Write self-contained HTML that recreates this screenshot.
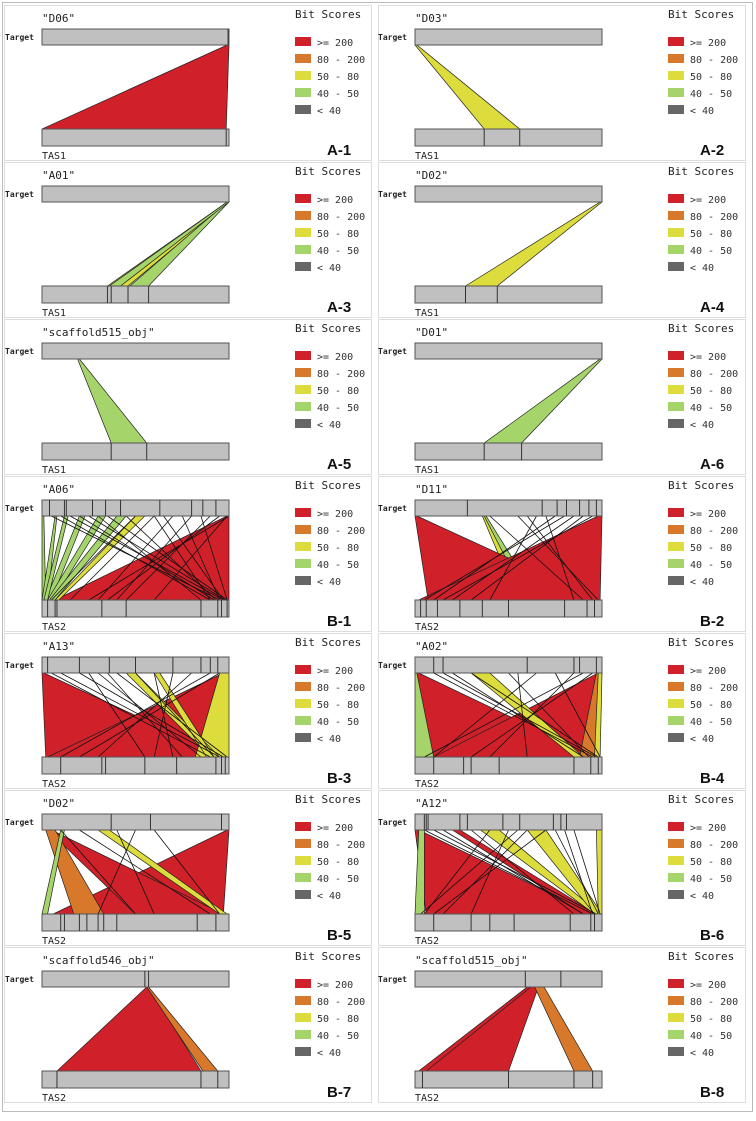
<!DOCTYPE html>
<html><head><meta charset="utf-8"><style>
html,body{margin:0;padding:0;background:#fff;}
svg{display:block;font-family:"DejaVu Sans Mono","Liberation Mono",monospace;}
</style></head><body>
<svg id="fig" width="756" height="1121" viewBox="0 0 756 1121"></svg>
<script>
const titles=['"D06"','"D03"','"A01"','"D02"','"scaffold515_obj"','"D01"','"A06"','"D11"','"A13"','"A02"','"D02"','"A12"','"scaffold546_obj"','"scaffold515_obj"'];
const panelLabels=['A-1','A-2','A-3','A-4','A-5','A-6','B-1','B-2','B-3','B-4','B-5','B-6','B-7','B-8'];
const queryNames=['TAS1','TAS1','TAS1','TAS1','TAS1','TAS1','TAS2','TAS2','TAS2','TAS2','TAS2','TAS2','TAS2','TAS2'];
const legendLabels=['>= 200','80 - 200','50 - 80','40 - 50','< 40'];
const scoreColors=['#d0202a','#d8782a','#dcdc3c','#a4d46a','#666666'];
// ribbons: [targetStart,targetEnd,queryStart,queryEnd,scoreClass]
const ribbons=[
 [[0.99,1,0,0.985,0]],
 [[0,0.01,0.37,0.56,2]],
 [[0.99,1,0.35,0.46,2],[0.99,1,0.47,0.57,3],[0.99,1,0.36,0.42,3]],
 [[0.99,1,0.27,0.44,2]],
 [[0.19,0.2,0.37,0.56,3]],
 [[0.99,1,0.37,0.57,3]],
 [[0.99,1,0.07,1,0],[0,0.01,0,0.02,3],[0.07,0.08,0,0.03,3],[0.2,0.23,0.02,0.05,3],[0.3,0.34,0.03,0.06,3],[0.4,0.45,0.04,0.07,3],[0.12,0.14,0.01,0.03,3],[0.5,0.55,0.07,0.09,2]],
 [[0.36,0.38,0.6,0.66,3],[0.36,0.37,0.55,0.6,2],[0,0.01,0.9,0.95,1],[0,0.01,0.07,0.99,0],[0.98,1,0.02,0.99,0]],
 [[0,0.01,0.02,0.98,0],[0.97,0.98,0.03,0.9,0],[0.95,1,0.82,1,2],[0.45,0.5,0.9,0.95,2],[0.6,0.63,0.88,0.92,2]],
 [[0,0.02,0.1,0.96,0],[0.98,1,0.1,0.9,0],[0,0.01,0,0.1,3],[0.97,1,0.88,0.96,1],[0.98,1,0.96,0.99,2],[0.3,0.4,0.85,0.9,2]],
 [[0.99,1,0.06,0.97,0],[0.03,0.05,0.5,0.97,0],[0.02,0.07,0.17,0.33,1],[0.1,0.12,0,0.03,3],[0.3,0.36,0.95,0.99,2]],
 [[0,0.02,0.06,0.95,0],[0.2,0.24,0.9,0.97,0],[0.35,0.45,0.96,0.99,2],[0.6,0.7,0.96,1,2],[0.97,1,0.98,1,2],[0.02,0.05,0,0.05,3]],
 [[0.56,0.57,0.08,0.85,0],[0.56,0.57,0.86,0.94,1]],
 [[0.6,0.64,0.02,0.08,0],[0.62,0.66,0.06,0.5,0],[0.64,0.69,0.85,0.95,1]]
];
// black alignment edges: [targetPos,queryPos]
const edges=[[],[],[],[],[],[],
 [[0.05,0.95],[0.1,0.9],[0.15,0.97],[0.2,0.92],[0.25,0.98],[0.3,0.85],[0.35,0.99],[0.45,0.93],[0.6,0.9],[0.65,0.97],[0.75,0.95],[0.85,0.99],[0.9,0.45],[0.95,0.35],[1,0.25],[0.99,0.6],[0.8,0.4],[0.7,0.3],[0.6,0.15],[0.5,0.05]],
 [[0.4,0.9],[0.6,0.95],[0.7,0.85],[0.75,0.1],[0.8,0.05],[0.85,0.2],[0.9,0.3],[0.95,0.15],[0.55,0.98],[0.65,0.4]],
 [[0.05,0.9],[0.1,0.95],[0.2,0.97],[0.3,0.85],[0.4,0.99],[0.5,0.92],[0.6,0.7],[0.7,0.6],[0.8,0.3],[0.9,0.1],[0.95,0.2],[0.35,0.75],[0.25,0.55]],
 [[0.1,0.95],[0.15,0.97],[0.2,0.9],[0.3,0.98],[0.5,0.93],[0.65,0.1],[0.9,0.05],[0.95,0.3],[0.85,0.4],[0.75,0.99],[0.55,0.6]],
 [[0.2,0.9],[0.4,0.6],[0.6,0.95],[0.5,0.3],[0.1,0.5]],
 [[0.05,0.95],[0.1,0.97],[0.15,0.9],[0.3,0.85],[0.4,0.05],[0.55,0.03],[0.6,0.15],[0.7,0.1],[0.5,0.3],[0.75,0.98],[0.8,0.95],[0.85,0.99]],
 [],[]
];
const targetDividers=[[0.995],[],[],[],[],[],[0.04,0.12,0.13,0.27,0.34,0.42,0.63,0.8,0.86,0.93],[0.28,0.68,0.76,0.81,0.88,0.93,0.97],[0.03,0.2,0.36,0.5,0.7,0.85,0.9,0.94],[0.1,0.15,0.6,0.85,0.88,0.97],[0.37,0.58,0.96],[0.05,0.06,0.07,0.24,0.28,0.47,0.56,0.74,0.78,0.81],[0.55,0.57],[0.59,0.78]];
const queryDividers=[[0.985],[0.37,0.56],[0.35,0.37,0.46,0.57],[0.27,0.44],[0.37,0.56],[0.37,0.57],[0.03,0.07,0.08,0.32,0.45,0.85,0.94,0.96,0.99],[0.03,0.06,0.12,0.24,0.36,0.5,0.8,0.92,0.96],[0.1,0.32,0.34,0.55,0.72,0.93,0.96,0.98],[0.1,0.26,0.3,0.45,0.85,0.94,0.98],[0.1,0.12,0.2,0.24,0.3,0.33,0.4,0.83,0.93],[0.1,0.3,0.4,0.53,0.83,0.94,0.96],[0.08,0.85,0.94],[0.04,0.5,0.85,0.95]];

const NS='http://www.w3.org/2000/svg';
const svg=document.getElementById('fig');
function mk(tag,attrs,parent){const e=document.createElementNS(NS,tag);for(const k in attrs)e.setAttribute(k,attrs[k]);(parent||svg).appendChild(e);return e;}
const BW=187, TOPY=24, TH=16, BOTY=124, BH=17;
const outer=mk('rect',{x:2.5,y:2.5,width:750,height:1109,fill:'#fff',stroke:'#bbb'});


for(let i=0;i<14;i++){
 const col=i%2,row=Math.floor(i/2);
 const ox=col*373, py=5+row*157;
 const g=mk('g',{});
 
 
 mk('rect',{x:4.5+ox+(col?1:0),y:py+0.5,width:367,height:155,fill:'#fff',stroke:'#ddd'},g);
 const L=42+ox;
 const tx=f=>L+f*BW;
 const t=mk('text',{x:L,y:py+17,'font-size':11,fill:'#222'},g);t.textContent=titles[i];
 
 
 const tl=mk('text',{x:5+ox,y:py+35,'font-size':8,'font-weight':'bold',fill:'#222'},g);tl.textContent='Target';
 
 
 const yT=py+TOPY+TH, yB=py+BOTY;
 ribbons[i].forEach(r=>{
  const p=mk('polygon',{points:`${tx(r[0])},${yT} ${tx(r[1])},${yT} ${tx(r[3])},${yB} ${tx(r[2])},${yB}`,fill:scoreColors[r[4]],stroke:'#222','stroke-width':0.7},g);
  
  
 });
 edges[i].forEach(e=>{
  const l=mk('line',{x1:tx(e[0]),y1:yT,x2:tx(e[1]),y2:yB,stroke:'#111','stroke-width':0.8},g);
  
  
 });
 const tb=mk('rect',{x:L,y:py+TOPY,width:BW,height:TH,fill:'#c0c0c0',stroke:'#555','stroke-width':1},g);
 
 
 const qb=mk('rect',{x:L,y:py+BOTY,width:BW,height:BH,fill:'#c0c0c0',stroke:'#555','stroke-width':1},g);
 
 
 targetDividers[i].forEach(d=>mk('line',{x1:tx(d),y1:py+TOPY,x2:tx(d),y2:py+TOPY+TH,stroke:'#333'},g));
 queryDividers[i].forEach(d=>mk('line',{x1:tx(d),y1:yB,x2:tx(d),y2:yB+BH,stroke:'#333'},g));
 const ql=mk('text',{x:L,y:py+154,'font-size':10,fill:'#222'},g);ql.textContent=queryNames[i];
 
 
 const lx=295+ox;
 const lt=mk('text',{x:lx,y:py+13,'font-size':11,fill:'#222'},g);lt.textContent='Bit Scores';
 
 
 legendLabels.forEach((s,k)=>{
  const sw=mk('rect',{x:lx,y:py+32+k*17,width:16,height:9,fill:scoreColors[k]},g);
  
  
  const lt2=mk('text',{x:lx+22,y:py+41+k*17,'font-size':10,fill:'#333'},g);lt2.textContent=s;
  
  
 });
 const pl=mk('text',{x:327+ox,y:py+150,'font-size':15,'font-weight':'bold',fill:'#111','font-family':'Liberation Sans, sans-serif'},g);pl.textContent=panelLabels[i];
 
 
}
</script>
</body></html>
